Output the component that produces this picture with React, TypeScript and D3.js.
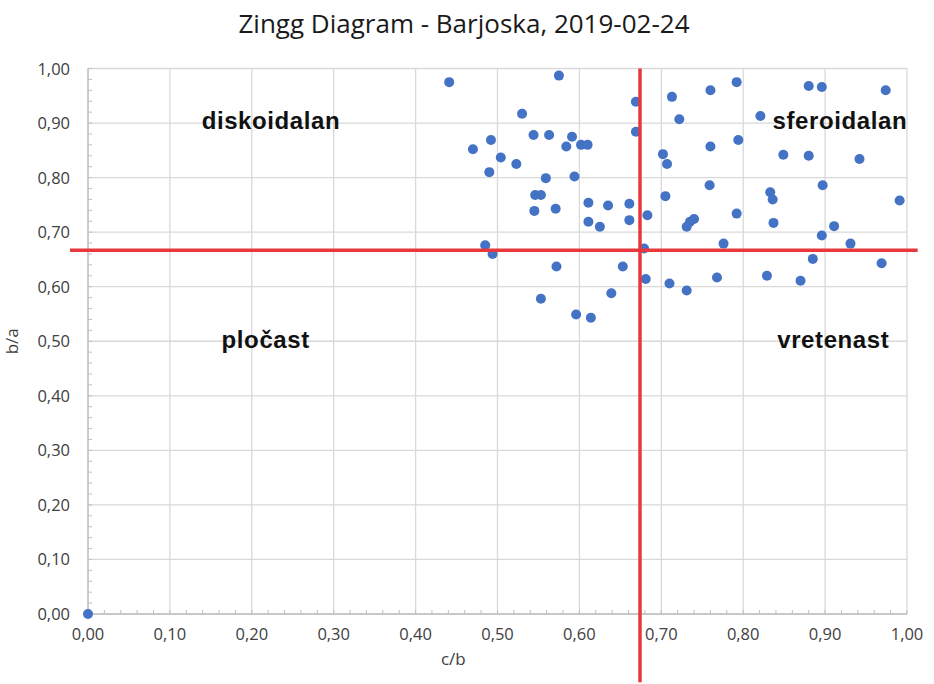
import React from "react";
import * as d3 from "d3";

const cbValues: number[] = [
  0.441, 0.575, 0.669, 0.530, 0.544, 0.563, 0.591, 0.584, 0.602, 0.610,
  0.669, 0.492, 0.470, 0.504, 0.523, 0.490, 0.559, 0.594, 0.702, 0.707,
  0.713, 0.546, 0.553, 0.545, 0.571, 0.611, 0.635, 0.661, 0.611, 0.625,
  0.661, 0.683, 0.705, 0.760, 0.792, 0.722, 0.880, 0.896, 0.974, 0.821,
  0.760, 0.794, 0.849, 0.880, 0.942, 0.759, 0.833, 0.836, 0.897, 0.991,
  0.792, 0.740, 0.735, 0.731, 0.837, 0.911, 0.896, 0.776, 0.931, 0.885,
  0.969, 0.710, 0.731, 0.768, 0.829, 0.870, 0.485, 0.494, 0.572, 0.653,
  0.679, 0.681, 0.553, 0.596, 0.614, 0.639, 0.000,
];
const baValues: number[] = [
  0.975, 0.987, 0.939, 0.917, 0.878, 0.878, 0.875, 0.857, 0.860, 0.860,
  0.884, 0.869, 0.852, 0.837, 0.825, 0.810, 0.799, 0.802, 0.843, 0.825,
  0.948, 0.768, 0.768, 0.739, 0.743, 0.754, 0.749, 0.752, 0.719, 0.710,
  0.722, 0.731, 0.766, 0.960, 0.975, 0.907, 0.968, 0.966, 0.960, 0.913,
  0.857, 0.869, 0.842, 0.840, 0.834, 0.786, 0.773, 0.760, 0.786, 0.758,
  0.734, 0.724, 0.719, 0.710, 0.717, 0.711, 0.694, 0.679, 0.679, 0.651,
  0.643, 0.606, 0.593, 0.617, 0.620, 0.611, 0.676, 0.660, 0.637, 0.637,
  0.670, 0.614, 0.578, 0.549, 0.543, 0.588, 0.000,
];

const majorTicks: number[] = [0, 0.1, 0.2, 0.3, 0.4, 0.5, 0.6, 0.7, 0.8, 0.9, 1.0];
const thresholdCB = 0.674;
const thresholdBA = 0.667;
const hLineX: number[] = [-0.022, 1.013];
const vLineY: number[] = [1.0, -0.125];

const quadrantLabels: string[] = ["diskoidalan", "sferoidalan", "pločast", "vretenast"];
const quadrantX: number[] = [0.2234, 0.918, 0.217, 0.91];
const quadrantY: number[] = [0.889, 0.889, 0.488, 0.488];

const title = "Zingg Diagram - Barjoska, 2019-02-24";

const fmt = (v: number) => v.toFixed(2).replace(".", ",");

export default function App() {
  const W = 934, H = 684;
  const x = d3.scaleLinear().domain([0, 1]).range([88, 907]);
  const y = d3.scaleLinear().domain([0, 1]).range([614, 68.5]);
  const minor = d3.range(0, 1.0001, 0.02);
  const font = "'Open Sans', sans-serif";
  const red = "#e8383b";
  const points = cbValues.map((v, i) => [v, baValues[i]]);

  return (
    <svg width={W} height={H} style={{ position: "absolute", left: 0, top: 0, background: "#fff" }}>
      <rect width={W} height={H} fill="#fff" />
      <text x={464} y={33} textAnchor="middle" fontFamily={font} fontSize={26} fill="#1a1a1a">{title}</text>
      {majorTicks.map((t) => (
        <g key={"g" + t}>
          <line x1={x(0)} x2={x(1)} y1={y(t)} y2={y(t)} stroke="#d9d9d9" strokeWidth={1.3} />
          <line x1={x(t)} x2={x(t)} y1={y(0)} y2={y(1)} stroke="#d9d9d9" strokeWidth={1.3} />
        </g>
      ))}
      <line x1={x(0)} x2={x(1)} y1={y(0)} y2={y(0)} stroke="#bfbfbf" strokeWidth={1.3} />
      <line x1={x(0)} x2={x(0)} y1={y(0)} y2={y(1)} stroke="#bfbfbf" strokeWidth={1.3} />
      {minor.map((t) => (
        <g key={"m" + t}>
          <line x1={x(0)} x2={x(0) + 4} y1={y(t)} y2={y(t)} stroke="#bfbfbf" strokeWidth={1} />
          <line x1={x(t)} x2={x(t)} y1={y(0)} y2={y(0) - 4} stroke="#bfbfbf" strokeWidth={1} />
        </g>
      ))}
      {majorTicks.map((t) => (
        <g key={"l" + t}>
          <text x={70} y={y(t) + 6} textAnchor="end" fontFamily={font} fontSize={16.5} fill="#404040">{fmt(t)}</text>
          <text x={x(t)} y={y(0) + 26} textAnchor="middle" fontFamily={font} fontSize={16.5} fill="#404040">{fmt(t)}</text>
        </g>
      ))}
      <text x={x(0.446)} y={665} textAnchor="middle" fontFamily={font} fontSize={17} fill="#404040">c/b</text>
      <text transform={`translate(18,${y(0.5)}) rotate(-90)`} textAnchor="middle" fontFamily={font} fontSize={17} fill="#404040">b/a</text>
      {quadrantLabels.map((l, i) => (
        <text key={l} x={x(quadrantX[i])} y={y(quadrantY[i])} textAnchor="middle" fontFamily="'Liberation Sans', Arial, sans-serif" fontWeight="bold" fontSize={24} letterSpacing={0.6} fill="#111">{l}</text>
      ))}
      {points.map(([a, b], i) => (
        <circle key={i} cx={x(a)} cy={y(b)} r={5} fill="#4472c4" />
      ))}
      <line x1={x(hLineX[0])} x2={x(hLineX[1])} y1={y(thresholdBA)} y2={y(thresholdBA)} stroke={red} strokeWidth={3.5} />
      <line x1={x(thresholdCB)} x2={x(thresholdCB)} y1={y(vLineY[0])} y2={y(vLineY[1])} stroke={red} strokeWidth={3.5} />
    </svg>
  );
}
